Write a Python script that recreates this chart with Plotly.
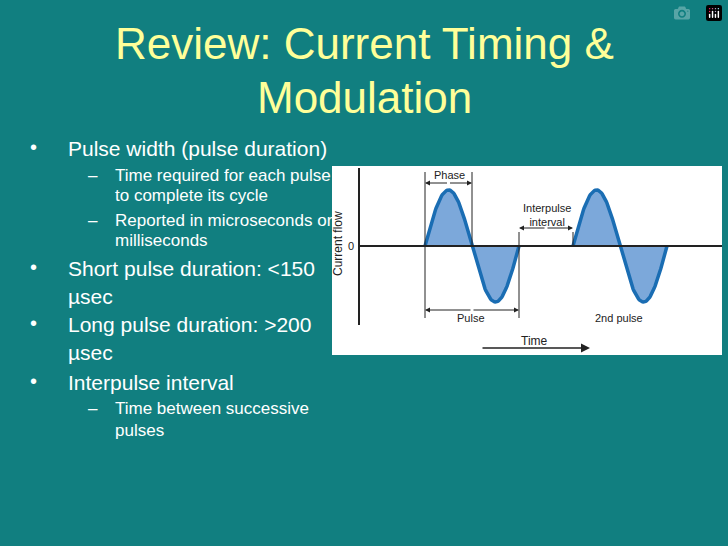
import numpy as np
import plotly.graph_objects as go

W, H = 728, 546
BG = "#117f80"
title_lines = ["Review: Current Timing &", "Modulation"]
bullets = [
    (0, "Pulse width (pulse duration)", 148),
    (1, "Time required for each pulse", 175),
    (None, "to complete its cycle", 195),
    (1, "Reported in microseconds or", 220),
    (None, "milliseconds", 240),
    (0, "Short pulse duration: <150", 268),
    (None, "µsec", 296),
    (0, "Long pulse duration: >200", 324),
    (None, "µsec", 352),
    (0, "Interpulse interval", 382),
    (1, "Time between successive", 408),
    (None, "pulses", 430),
]
pulse_starts = [425, 573]
pulse_width = 94
amplitude = 56
zero_y = 246

fig = go.Figure()
ax = dict(range=[0, W], visible=False, fixedrange=True)
ay = dict(range=[H, 0], visible=False, fixedrange=True)

shapes = [dict(type="rect", x0=332, x1=722, y0=166, y1=355, fillcolor="white", line_width=0, layer="below")]
shapes.append(dict(type="line", x0=359, x1=359, y0=168, y1=325, line=dict(color="#222", width=2)))
shapes.append(dict(type="line", x0=359, x1=722, y0=zero_y, y1=zero_y, line=dict(color="#222", width=2)))

for s in pulse_starts:
    t = np.linspace(0, 1, 120)
    x = s + t * pulse_width
    y = zero_y - amplitude * np.sin(2 * np.pi * t)
    fig.add_trace(go.Scatter(x=np.r_[x, x[::-1]], y=np.r_[y, np.full(len(x), zero_y)], fill="toself",
                             fillcolor="#7ca8da", line=dict(width=0), mode="lines", hoverinfo="skip"))
    shapes.append(dict(type="line", x0=s, x1=s + pulse_width, y0=zero_y, y1=zero_y,
                       line=dict(color="#222", width=1.5, dash="dash")))
    fig.add_trace(go.Scatter(x=x, y=y, mode="lines", line=dict(color="#1a6db3", width=3.5), hoverinfo="skip"))

for (x0, y0, y1) in [(425, 172, 318), (472, 172, zero_y), (519, 232, 318), (573, 232, zero_y)]:
    shapes.append(dict(type="line", x0=x0, x1=x0, y0=y0, y1=y1, line=dict(color="#222", width=1)))

ann = []
def darrow(x0, x1, y):
    for a, b in [(x0, x1), (x1, x0)]:
        ann.append(dict(x=a, y=y, ax=(a + b) / 2, ay=y, xref="x", yref="y", axref="x", ayref="y",
                        showarrow=True, arrowhead=2, arrowsize=1, arrowwidth=1, arrowcolor="#222", text=""))
darrow(425, 472, 183)
darrow(519, 573, 228)
darrow(425, 519, 310)
ann.append(dict(x=590, y=348, ax=481, ay=348, xref="x", yref="y", axref="x", ayref="y",
                showarrow=True, arrowhead=2, arrowsize=1.2, arrowwidth=1.5, arrowcolor="#222", text=""))

def txt(x, y, t, size, color="#222", xanchor="center", angle=0):
    ann.append(dict(x=x, y=y, text=t, showarrow=False, xref="x", yref="y", xanchor=xanchor, yanchor="middle",
                    textangle=angle, font=dict(family="Liberation Sans, Arial", size=size, color=color)))

txt(449, 175, "Phase", 11)
txt(547, 215, "Interpulse<br>interval", 11)
txt(471, 318, "Pulse", 11)
txt(619, 318, "2nd pulse", 11)
txt(534, 341, "Time", 12)
txt(351, 246, "0", 11)
txt(338, 244, "Current flow", 12, angle=-90)

txt(364, 43, title_lines[0], 44, "#ffff99")
txt(364, 97, title_lines[1], 44, "#ffff99")
for lvl, t, y in bullets:
    if lvl == 0:
        txt(28, y - 1, "•", 20, "white", "left")
    elif lvl == 1:
        txt(86, y, "–", 17, "white", "left")
    if lvl == 0 or (lvl is None and y in (296, 352)):
        txt(66, y, t, 21, "white", "left")
    else:
        txt(113, y, t, 17, "white", "left")

fig.update_layout(width=W, height=H, margin=dict(l=0, r=0, t=0, b=0), paper_bgcolor=BG, plot_bgcolor=BG,
                  xaxis=ax, yaxis=ay, showlegend=False, shapes=shapes, annotations=ann)
fig.write_html("out.html", post_script="document.body.style.margin='0';document.body.style.overflow='hidden';")
